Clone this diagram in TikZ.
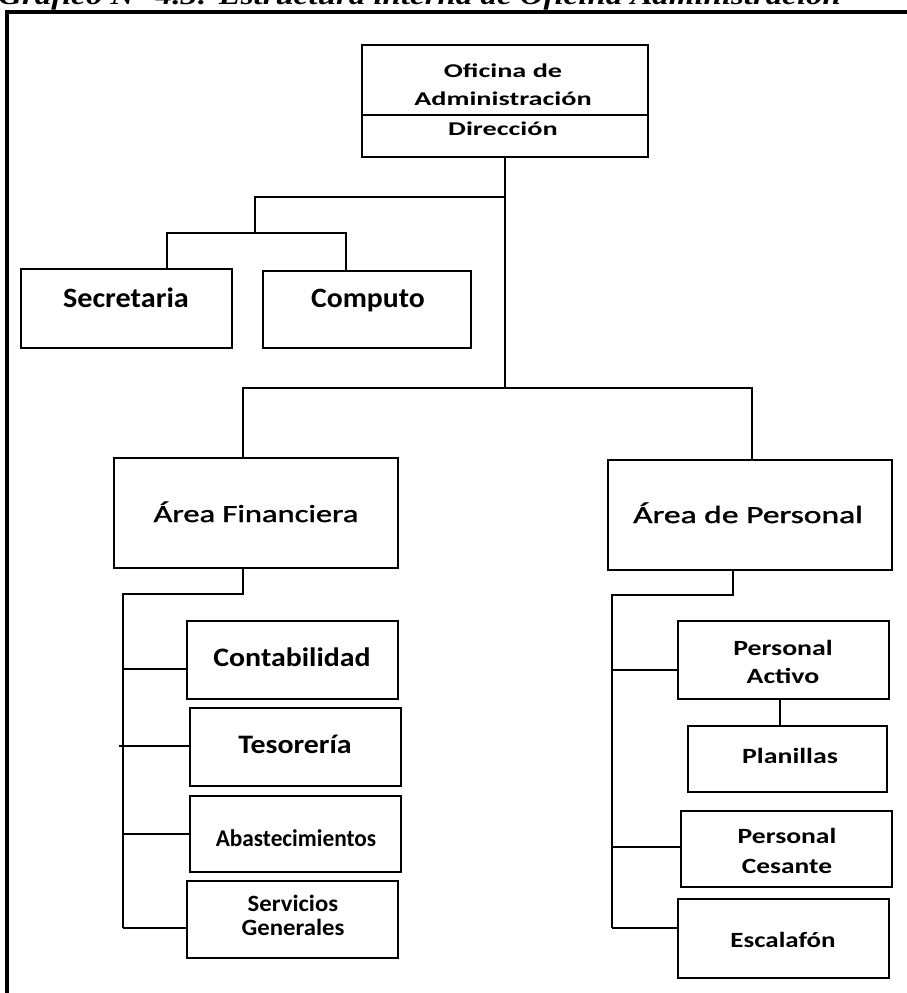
\documentclass[tikz,border=0pt]{standalone}
\usepackage{graphicx}
\usepackage{fontspec}
\setmainfont{Carlito}
\newfontfamily\titlefont{Liberation Serif}
\newfontfamily\semifont[FakeBold=1.2]{Carlito}
\usetikzlibrary{fit}
% horizontally widened text
\newcommand\hs[2]{\scalebox{#1}[1]{#2}}
\tikzset{
  box/.style={draw, line width=1.35pt, inner sep=0pt},
  conn/.style={line width=1.35pt},
  lab/.style={inner sep=0pt, anchor=base, text=black},
  head/.style={lab, font=\fontsize{14.6}{14.6}\selectfont\bfseries},
  side/.style={lab, font=\fontsize{21}{21}\selectfont\bfseries},
  area/.style={lab, font=\semifont\fontsize{18.5}{18.5}\selectfont},
  mid/.style={lab, font=\fontsize{20}{20}\selectfont\bfseries},
  sml/.style={lab, font=\fontsize{17.5}{17.5}\selectfont\bfseries},
  pers/.style={lab, font=\fontsize{16.3}{16.3}\selectfont\bfseries},
}
\begin{document}
\begin{tikzpicture}[x=0.75pt,y=-0.75pt]
\useasboundingbox (0,0) rectangle (907,993);
\clip (0,0) rectangle (907,993);

% caption and frame
\node[anchor=base west, inner sep=0pt,
      font=\titlefont\bfseries\itshape\fontsize{20}{20}\selectfont] (title) at (-2,4)
  {\resizebox{632pt}{\height}{Gráfico N° 4.3: Estructura interna de Oficina Administración}};
\draw[line width=3.5pt] (910,12) -- (7,12) -- (7,1000);

% boxes
\node[box, fit={(362,45) (648,157)}] (dir) {};
\draw[line width=1.8pt] (dir.west |- 0,115) -- (dir.east |- 0,115);
\node[box, fit={(21,269) (232,348)}] (sec) {};
\node[box, fit={(263,271) (471,348)}] (comp) {};
\node[box, fit={(114,458) (398,568)}] (fin) {};
\node[box, fit={(608,460) (892,570)}] (per) {};
\node[box, fit={(187,621) (398,699)}] (cont) {};
\node[box, fit={(190,708) (401,786)}] (tes) {};
\node[box, fit={(190,796) (401,872)}] (aba) {};
\node[box, fit={(187,881) (398,958)}] (serv) {};
\node[box, fit={(678,621) (889,699)}] (pa) {};
\node[box, fit={(688,726) (887,792)}] (pla) {};
\node[box, fit={(681,811) (892,887)}] (pc) {};
\node[box, fit={(678,899) (889,978)}] (esc) {};

% labels, placed on their baselines
\node[head] (tofi1) at (503,77) {\hs{1.45}{Oficina de}};
\node[head] (tofi2) at (503,105) {\hs{1.45}{Administración}};
\node[head] (tdir) at (503,135) {\hs{1.45}{Dirección}};
\node[side] (tsec) at (126,307) {\hs{1.08}{Secretaria}};
\node[side] (tcomp) at (368,307) {\hs{1.06}{Computo}};
\node[area] (tfin) at (256,522) {\hs{1.32}{Área Financiera}};
\node[area] (tper) at (748,523) {\hs{1.36}{Área de Personal}};
\node[mid] (tcont) at (292,666) {\hs{1.12}{Contabilidad}};
\node[mid] (ttes) at (295,753) {\hs{1.12}{Tesorería}};
\node[lab, font=\fontsize{18}{18}\selectfont\bfseries] (taba) at (296,846) {\hs{0.97}{Abastecimientos}};
\node[sml] (tserv1) at (293,911) {\hs{1.06}{Servicios}};
\node[sml] (tserv2) at (293,935) {\hs{1.06}{Generales}};
\node[pers] (tpa1) at (783,655) {\hs{1.28}{Personal}};
\node[pers] (tpa2) at (783,683) {\hs{1.28}{Activo}};
\node[pers] (tpla) at (790,763) {\hs{1.28}{Planillas}};
\node[pers] (tpc1) at (787,843) {\hs{1.27}{Personal}};
\node[pers] (tpc2) at (787,873) {\hs{1.26}{Cesante}};
\node[pers] (tesc) at (783,947) {\hs{1.24}{Escalafón}};

% junction points
\coordinate (j2) at (255,197);
\coordinate (sL) at (167,233);
\coordinate (sR) at (346,233);
\coordinate (bL) at (243,388);
\coordinate (bR) at (752,388);
\coordinate (bus) at (505,388);
\coordinate (fA) at (243,594);
\coordinate (fB) at (123,594);
\coordinate (fC) at (123,928);
\coordinate (f1) at (123,669);
\coordinate (f2) at (119,746);
\coordinate (f3) at (123,834);
\coordinate (pA) at (733,595);
\coordinate (pB) at (612,595);
\coordinate (pC) at (612,928);
\coordinate (p1) at (612,670);
\coordinate (p2) at (612,847);
\coordinate (pv) at (780,700);

% connectors
\draw[conn] (dir.south) -- (bus);
\draw[conn] (dir.south |- j2) -- (j2) -- (j2 |- sL);
\draw[conn] (sec.north -| sL) -- (sL) -- (sR) -- (comp.north -| sR);
\draw[conn] (fin.north -| bL) -- (bL) -- (bR) -- (per.north -| bR);
\draw[conn] (fin.south -| fA) -- (fA) -- (fB) -- (fC);
\draw[conn] (f1) -- (cont.west |- f1);
\draw[conn] (f2) -- (tes.west |- f2);
\draw[conn] (f3) -- (aba.west |- f3);
\draw[conn] (fC) -- (serv.west |- fC);
\draw[conn] (per.south -| pA) -- (pA) -- (pB) -- (pC);
\draw[conn] (p1) -- (pa.west |- p1);
\draw[conn] (p2) -- (pc.west |- p2);
\draw[conn] (pC) -- (esc.west |- pC);
\draw[conn] (pa.south -| pv) -- (pla.north -| pv);
\end{tikzpicture}
\end{document}
